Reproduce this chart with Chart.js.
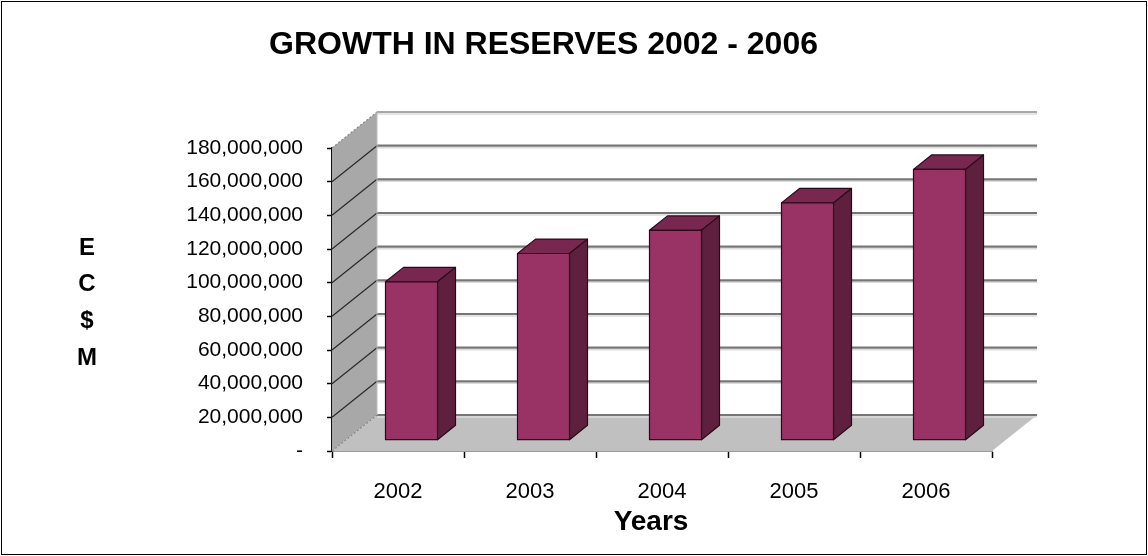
<!DOCTYPE html>
<html>
<head>
<meta charset="utf-8">
<title>Growth in Reserves 2002 - 2006</title>
<script src="https://cdn.jsdelivr.net/npm/chart.js@4/dist/chart.umd.min.js"></script>
<style>
    html, body { margin: 0; padding: 0; background: #fff; }
    #wrap { width: 1148px; height: 556px; }
</style>
</head>
<body>
<div id="wrap"><canvas id="reservesChart" width="1148" height="556"></canvas></div>
<script>
// Reserves per year, EC$
const years = ["2002", "2003", "2004", "2005", "2006"];
const reserves = [94100000, 110900000, 124700000, 141000000, 160900000];
const yTicks = [0, 20000000, 40000000, 60000000, 80000000, 100000000, 120000000, 140000000, 160000000, 180000000];
const yAxisLetters = ["E", "C", "$", "M"];
const chartTitle = "GROWTH IN RESERVES 2002 - 2006";
const xAxisTitle = "Years";

// fake 3D: depth vector of walls/floor, bars sit between 30% and 70% of it
const DEPTH_X = 45, DEPTH_Y = -36;
const BAR_FRONT = 0.3, BAR_BACK = 0.7;

Chart.defaults.font.family = "'Liberation Sans', Arial, sans-serif";
Chart.defaults.color = "#000";

const poly = (ctx, pts) => {
    ctx.beginPath();
    ctx.moveTo(pts[0][0], pts[0][1]);
    for (let i = 1; i < pts.length; i++) ctx.lineTo(pts[i][0], pts[i][1]);
    ctx.closePath();
};

const line = (ctx, x1, y1, x2, y2, color, width, dash) => {
    ctx.save();
    ctx.strokeStyle = color;
    ctx.lineWidth = width;
    ctx.setLineDash(dash || []);
    ctx.beginPath();
    ctx.moveTo(x1, y1);
    ctx.lineTo(x2, y2);
    ctx.stroke();
    ctx.restore();
};

// page background + frame
const frame = {
    id: "frame",
    beforeDraw(chart) {
        const ctx = chart.ctx;
        ctx.save();
        ctx.fillStyle = "#fff";
        ctx.fillRect(0, 0, chart.width, chart.height);
        ctx.restore();
    },
    afterDraw(chart) {
        const ctx = chart.ctx;
        ctx.save();
        ctx.strokeStyle = "#000";
        ctx.lineWidth = 1;
        ctx.strokeRect(1.5, 1.5, chart.width - 3, chart.height - 3);
        ctx.restore();
    }
};

// side wall, floor and the back-wall gridlines
const walls = {
    id: "walls",
    beforeDatasetsDraw(chart) {
        const { ctx, chartArea: a, scales: { y } } = chart;
        const y0 = y.getPixelForValue(0);
        const yTop = y.getPixelForValue(y.max);
        ctx.save();
        ctx.fillStyle = "#a8a8a8";
        poly(ctx, [[a.left, yTop], [a.left + DEPTH_X, yTop + DEPTH_Y], [a.left + DEPTH_X, y0 + DEPTH_Y], [a.left, y0]]);
        ctx.fill();
        ctx.fillStyle = "#c0c0c0";
        poly(ctx, [[a.left, y0], [a.left + DEPTH_X, y0 + DEPTH_Y], [a.right + DEPTH_X, y0 + DEPTH_Y], [a.right, y0]]);
        ctx.fill();
        ctx.restore();

        yTicks.forEach((v) => {
            const py = y.getPixelForValue(v);
            const edge = v === 0 || v === y.max;
            // back wall line + soft shadow under it
            line(ctx, a.left + DEPTH_X, py + DEPTH_Y + 2, a.right + DEPTH_X, py + DEPTH_Y + 2, "#dcdcdc", 1.5);
            line(ctx, a.left + DEPTH_X, py + DEPTH_Y, a.right + DEPTH_X, py + DEPTH_Y, v === y.max ? "#a8a8a8" : "#767676", 2.2);
            // diagonal across the side wall
            line(ctx, a.left, py, a.left + DEPTH_X, py + DEPTH_Y, edge ? "#8a8a8a" : "#2a2a2a", 1.3, edge ? [2, 2] : null);
        });
        // back corner of the side wall
        line(ctx, a.left + DEPTH_X, yTop + DEPTH_Y, a.left + DEPTH_X, y0 + DEPTH_Y, "#bdbdbd", 1);
    },
    afterDatasetsDraw(chart) {
        const ctx = chart.ctx;
        const meta = chart.getDatasetMeta(0);
        const fx = BAR_FRONT * DEPTH_X, fy = BAR_FRONT * DEPTH_Y;
        const sx = (BAR_BACK - BAR_FRONT) * DEPTH_X, sy = (BAR_BACK - BAR_FRONT) * DEPTH_Y;
        ctx.save();
        ctx.strokeStyle = "#2a0a1a";
        ctx.lineWidth = 1.2;
        ctx.lineJoin = "round";
        meta.data.forEach((bar) => {
            const { x, y, base, width } = bar.getProps(["x", "y", "base", "width"], true);
            const l = x - width / 2 + fx, r = x + width / 2 + fx;
            const t = y + fy, b = base + fy;
            // top
            ctx.fillStyle = "#782850";
            poly(ctx, [[l, t], [l + sx, t + sy], [r + sx, t + sy], [r, t]]);
            ctx.fill(); ctx.stroke();
            // right side
            ctx.fillStyle = "#5f1f3f";
            poly(ctx, [[r, t], [r + sx, t + sy], [r + sx, b + sy], [r, b]]);
            ctx.fill(); ctx.stroke();
            // front
            ctx.fillStyle = "#993366";
            poly(ctx, [[l, t], [r, t], [r, b], [l, b]]);
            ctx.fill(); ctx.stroke();
        });
        ctx.restore();
    }
};

// stacked letters for the value axis, and the category axis title
const axisTitles = {
    id: "axisTitles",
    afterDraw(chart) {
        const ctx = chart.ctx;
        ctx.save();
        ctx.fillStyle = "#000";
        ctx.textAlign = "center";
        ctx.textBaseline = "middle";
        ctx.font = "bold 24px 'Liberation Sans', Arial, sans-serif";
        yAxisLetters.forEach((ch, i) => ctx.fillText(ch, 87, 248 + i * 36.7));
        ctx.font = "bold 28px 'Liberation Sans', Arial, sans-serif";
        ctx.fillText(xAxisTitle, 651, 522);
        ctx.restore();
    }
};

const ctx = document.getElementById("reservesChart").getContext("2d");
const reservesChart = new Chart(ctx, {
    type: "bar",
    data: {
        labels: years,
        datasets: [{
            label: "Reserves",
            data: reserves,
            backgroundColor: "rgba(0,0,0,0)",
            borderWidth: 0,
            barPercentage: 0.394,
            categoryPercentage: 1
        }]
    },
    options: {
        responsive: false,
        animation: false,
        events: [],
        layout: { padding: { left: 95, right: 156, top: 0, bottom: 21 } },
        plugins: {
            legend: { display: false },
            tooltip: { enabled: false },
            title: {
                display: true,
                text: chartTitle,
                color: "#000",
                font: { size: 32, weight: "bold", lineHeight: 1.2 },
                padding: { top: 26, bottom: 83.6 }
            }
        },
        scales: {
            x: {
                offset: true,
                grid: { drawOnChartArea: false, drawTicks: true, tickLength: 7, tickColor: "#000", tickWidth: 1.5, offset: true },
                border: { color: "#9a9a9a", width: 2 },
                ticks: { font: { size: 22 }, color: "#000", padding: 21, maxRotation: 0 },
                afterFit: (scale) => { scale.height = 84; }
            },
            y: {
                min: 0,
                max: 180000000,
                grid: { drawOnChartArea: false, drawTicks: true, tickLength: 5, tickColor: "#000", tickWidth: 1.5 },
                border: { color: "#111", width: 1.5 },
                ticks: {
                    stepSize: 20000000,
                    font: { size: 21 },
                    color: "#000",
                    padding: 24,
                    callback: (v) => (v === 0 ? "-" : v.toLocaleString("en-US"))
                },
                afterFit: (scale) => { scale.width = 332 - 95; }
            }
        }
    },
    plugins: [frame, walls, axisTitles]
});
</script>
</body>
</html>
